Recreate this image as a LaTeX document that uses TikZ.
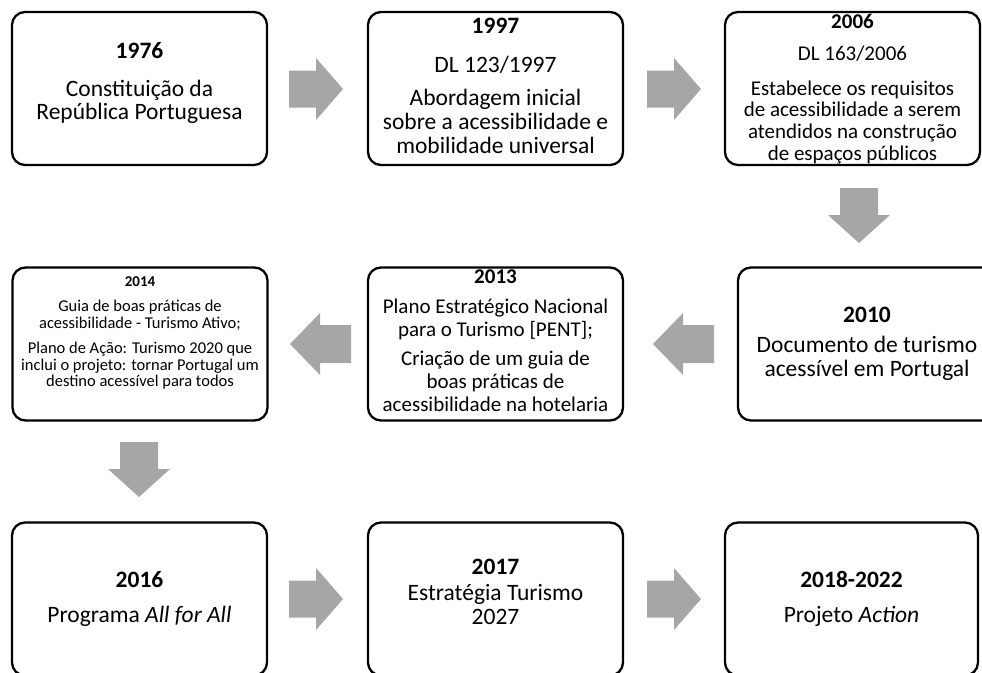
\documentclass[tikz,border=0pt]{standalone}
\usepackage{fontspec}
\setmainfont{Carlito}
\definecolor{arrowgray}{RGB}{166,166,166}
\newcommand\arrR[2]{\fill[arrowgray] (#1,#2-18.5) -- (#1+27,#2-18.5) -- (#1+27,#2-31) -- (#1+54,#2) -- (#1+27,#2+31) -- (#1+27,#2+18.5) -- (#1,#2+18.5) -- cycle;}
\newcommand\arrL[2]{\fill[arrowgray] (#1,#2) -- (#1+30,#2-31) -- (#1+30,#2-19) -- (#1+61,#2-19) -- (#1+61,#2+19) -- (#1+30,#2+19) -- (#1+30,#2+31) -- cycle;}
\newcommand\arrD[2]{\fill[arrowgray] (#1-19,#2) -- (#1+19,#2) -- (#1+19,#2+27) -- (#1+31,#2+27) -- (#1,#2+55) -- (#1-31,#2+27) -- (#1-19,#2+27) -- cycle;}
\begin{document}
\begin{tikzpicture}[x=1pt,y=-1pt,
  box/.style={draw=black, line width=2.3pt, rounded corners=13pt, minimum width=255pt, minimum height=153pt, inner sep=0pt},
  txt/.style={anchor=base, inner sep=0pt, font=\fontsize{#1}{#1}\selectfont},
  yr/.style={anchor=base, inner sep=0pt, font=\fontsize{#1}{#1}\selectfont\bfseries}]
\useasboundingbox (0,0) rectangle (982,672);
% boxes
\node[box] (b1) at (139.5,88.5) {};
\node[box] (b2) at (495.5,88.5) {};
\node[box] (b3) at (852.5,88.5) {};
\node[box] (b4) at (140,344) {};
\node[box] (b5) at (495.5,344) {};
\node[box, minimum width=258pt] (b6) at (867,344) {};
\node[box] (b7) at (139.5,599) {};
\node[box] (b8) at (495.5,599) {};
\node[box, minimum width=253pt] (b9) at (851.5,599) {};
% arrows
\arrR{289}{89}
\arrR{647}{89}
\arrD{859}{188}
\arrL{653}{344}
\arrL{290}{344}
\arrD{139}{442}
\arrR{289}{599}
\arrR{647}{599}
% box 1
\node[yr=23.5] (t1a) at (139.5,58) {1976};
\node[txt=23.5] (t1b) at (139.5,96) {Constituição da};
\node[txt=23.5] (t1c) at (139.5,119) {República Portuguesa};
% box 2
\node[yr=23.5] (t2a) at (495.5,33) {1997};
\node[txt=23.5] (t2b) at (495.5,72) {DL 123/1997};
\node[txt=23.5] (t2c) at (495.5,105) {Abordagem inicial};
\node[txt=23.5] (t2d) at (495.5,129) {sobre a acessibilidade e};
\node[txt=23.5] (t2e) at (495.5,153) {mobilidade universal};
% box 3
\node[yr=21] (t3a) at (852.5,28) {2006};
\node[txt=21] (t3b) at (852.5,60) {DL 163/2006};
\node[txt=21] (t3c) at (852.5,95) {Estabelece os requisitos};
\node[txt=21] (t3d) at (852.5,116.7) {de acessibilidade a serem};
\node[txt=21] (t3e) at (852.5,138.3) {atendidos na construção};
\node[txt=21] (t3f) at (852.5,160) {de espaços públicos};
% box 2014
\node[yr=15] (t4a) at (140,286.7) {2014};
\node[txt=16.5] (t4b) at (140,311.7) {Guia de boas práticas de};
\node[txt=16.5] (t4c) at (140,328.3) {acessibilidade - Turismo Ativo;};
\node[txt=16.5] (t4d) at (140,353.3) {Plano de Ação: Turismo 2020 que};
\node[txt=16.5] (t4e) at (140,370) {inclui o projeto: tornar Portugal um};
\node[txt=16.5] (t4f) at (140,386.7) {destino acessível para todos};
% box 2013
\node[yr=21] (t5a) at (495.5,283.3) {2013};
\node[txt=21] (t5b) at (495.5,313.3) {Plano Estratégico Nacional};
\node[txt=21] (t5c) at (495.5,336.7) {para o Turismo [PENT];};
\node[txt=21] (t5d) at (495.5,365) {Criação de um guia de};
\node[txt=21] (t5e) at (495.5,388.3) {boas práticas de};
\node[txt=21] (t5f) at (495.5,411.7) {acessibilidade na hotelaria};
% box 2010
\node[yr=23.5] (t6a) at (867,322.3) {2010};
\node[txt=23.5] (t6b) at (867,352.3) {Documento de turismo};
\node[txt=23.5] (t6c) at (867,376) {acessível em Portugal};
% box 2016
\node[yr=23.5] (t7a) at (139.5,587.3) {2016};
\node[txt=23.5] (t7b) at (139.5,622) {Programa \textit{All for All}};
% box 2017
\node[yr=23.5] (t8a) at (495.5,574) {2017};
\node[txt=23.5] (t8b) at (495.5,600) {Estratégia Turismo};
\node[txt=23.5] (t8c) at (495.5,624) {2027};
% box 2018-2022
\node[yr=23.5] (t9a) at (851.5,587.3) {2018-2022};
\node[txt=23.5] (t9b) at (851.5,622) {Projeto \textit{Action}};
\end{tikzpicture}
\end{document}
